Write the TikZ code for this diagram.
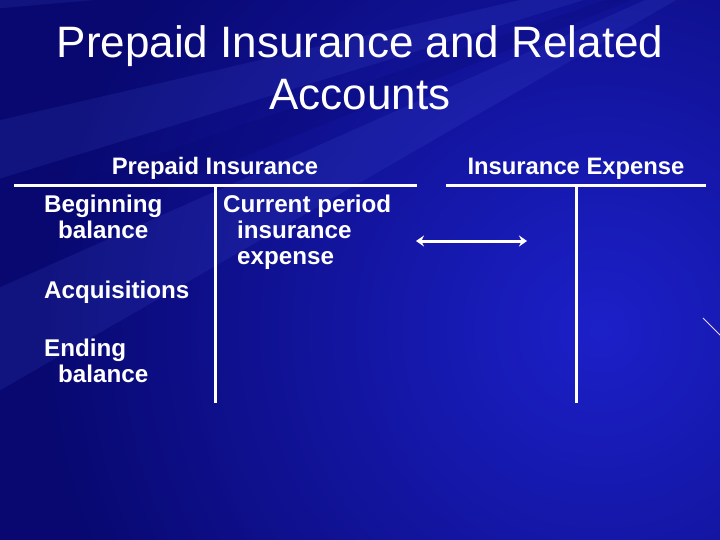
\documentclass[tikz,border=0pt]{standalone}
\usepackage{fontspec}
\setmainfont{Liberation Sans}
\usetikzlibrary{arrows.meta}

\definecolor{slidenavy}{RGB}{8,8,112}
\definecolor{slideblue}{RGB}{28,32,200}
\definecolor{rayblue}{RGB}{90,110,240}
\definecolor{streak}{RGB}{235,215,245}

\begin{document}
\begin{tikzpicture}[x=1pt,y=-1pt,
    every node/.style={text=white,inner sep=0pt},
    ttl/.style={font=\fontsize{44}{52}\selectfont,anchor=base},
    hd/.style={font=\bfseries\fontsize{23.8}{26}\selectfont,anchor=base},
    entry/.style={font=\bfseries\fontsize{24.2}{26}\selectfont,anchor=base west},
    tline/.style={white,line width=3pt},
    link/.style={white,line width=3pt,{Stealth[length=8pt,width=11pt]}-{Stealth[length=8pt,width=11pt]}}]
  \useasboundingbox (0,0) rectangle (720,540);
  % slide background
  \begin{scope}
    \clip (0,0) rectangle (720,540);
    \fill[slidenavy] (0,0) rectangle (720,540);
    \shade[inner color=slideblue, outer color=slidenavy] (600,330) circle[radius=560];
    % light rays from the top right corner
    \foreach \a/\b in {150/156,163/167,175/181,190/193,205/211,222/226}
      \fill[rayblue,opacity=0.12] (780,-60) -- ++(\a:1200) -- ++(\b+90:{1200*sin(\b-\a)}) -- cycle;
    \foreach \a/\b in {158/161,184/187,199/202,215/218}
      \fill[slidenavy,opacity=0.25] (780,-60) -- ++(\a:1200) -- ++(\b+90:{1200*sin(\b-\a)}) -- cycle;
    \draw[streak,line width=1pt] (703,318) -- (722,337);
  \end{scope}

  % title
  \node[ttl] (title1) at (360,58) {Prepaid Insurance and Related};
  \node[ttl] (title2) at (360,110) {Accounts};

  % account headings
  \node[hd] (prepaid) at (215,175) {Prepaid Insurance};
  \node[hd] (expense) at (576,175) {Insurance Expense};

  % T of prepaid insurance
  \coordinate (pL) at (14,186);
  \coordinate (pR) at (417,186);
  \coordinate (pTop) at (215,186);
  \coordinate (pBot) at (215,403);
  \draw[tline] (pL) -- (pR);
  \draw[tline] (pTop) -- (pBot);

  % T of insurance expense
  \coordinate (eL) at (446,186);
  \coordinate (eR) at (706,186);
  \coordinate (eTop) at (576,186);
  \coordinate (eBot) at (576,403);
  \draw[tline] (eL) -- (eR);
  \draw[tline] (eTop) -- (eBot);

  % debit side
  \node[entry] (beg1) at (44,213) {Beginning};
  \node[entry] (beg2) at (58,238) {balance};
  \node[entry] (acq) at (44,298) {Acquisitions};
  \node[entry] (end1) at (44,356) {Ending};
  \node[entry] (end2) at (58,382) {balance};

  % credit side
  \node[entry] (cur1) at (223,213) {Current period};
  \node[entry] (cur2) at (237,238) {insurance};
  \node[entry] (cur3) at (237,264) {expense};

  % transfer to expense
  \coordinate (aL) at (416,241);
  \coordinate (aR) at (527,241);
  \draw[link] (aL) -- (aR);
\end{tikzpicture}
\end{document}
